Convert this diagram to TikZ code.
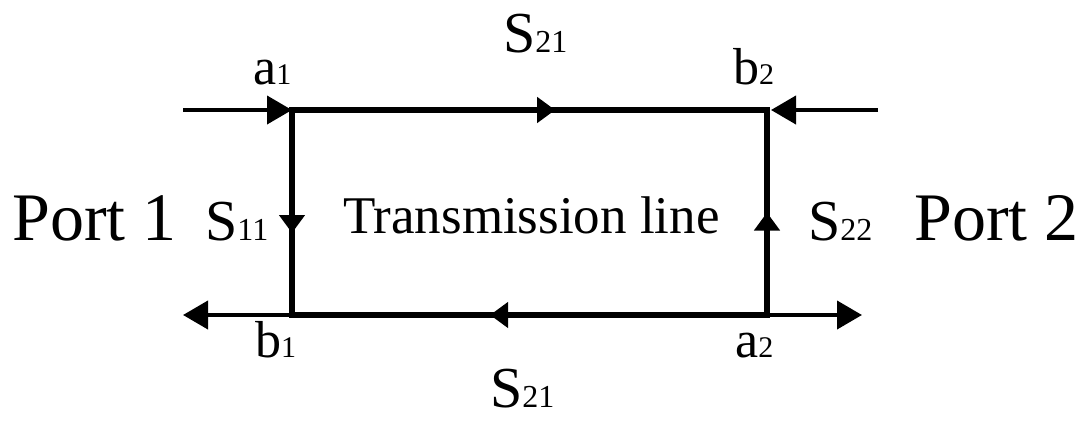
\documentclass[tikz,border=0pt]{standalone}
\usepackage{fontspec}
\setmainfont{Liberation Serif}
\usetikzlibrary{arrows.meta,calc}
\newcommand{\bigS}[2]{{\fontsize{58}{60}\selectfont #1}{\fontsize{32}{34}\selectfont #2}}
\newcommand{\wave}[2]{{\fontsize{52}{54}\selectfont #1}{\fontsize{30}{32}\selectfont #2}}
\tikzset{
  lbl/.style={inner sep=0pt, anchor=base west, text=black},
  edge/.style={line width=6pt, line cap=butt},
  port/.style={line width=4pt},
  bigtip/.style={-{Triangle[length=25pt,width=28pt]}},
  smalltip/.style={-{Triangle[length=18pt,width=25pt]}}
}
\begin{document}
\begin{tikzpicture}[x=1pt,y=1pt]
\useasboundingbox[fill=white] (0,0) rectangle (1088,-421);
% corners
\coordinate (A1) at (292,-110);
\coordinate (B2) at (767,-110);
\coordinate (A2) at (767,-315);
\coordinate (B1) at (292,-315);
% free ends
\coordinate (inL) at (183,-110);
\coordinate (inR) at (878,-110);
\coordinate (outL) at (183,-315);
\coordinate (outR) at (862,-315);
% rectangle
\draw[edge, line join=miter] (A1) -- (B2) -- (A2) -- (B1) -- cycle;
% mid arrows
\draw[edge, smalltip] (A1) -- ($(A1)!0.554!(B2)$);
\draw[edge, smalltip] (A2) -- ($(A2)!0.583!(B1)$);
\draw[edge, smalltip] (A1) -- ($(A1)!0.6!(B1)$);
\draw[edge, smalltip] (A2) -- ($(A2)!0.5!(B2)$);
% port lines
\draw[port, bigtip] (inL) -- (A1);
\draw[port, bigtip] (inR) -- ($(B2)+(4,0)$);
\draw[port, bigtip] (B1) -- (outL);
\draw[port, bigtip] (A2) -- (outR);
% labels
\node[lbl] (s21t) at (503,-52) {\bigS{S}{21}};
\node[lbl] (s21b) at (490,-407) {\bigS{S}{21}};
\node[lbl] (s11) at (205,-240) {\bigS{S}{11}};
\node[lbl] (s22) at (808,-240) {\bigS{S}{22}};
\node[lbl] (la1) at (253,-84) {\wave{a}{1}};
\node[lbl] (lb2) at (733,-84) {\wave{b}{2}};
\node[lbl] (lb1) at (255,-357) {\wave{b}{1}};
\node[lbl] (la2) at (735,-357) {\wave{a}{2}};
\node[lbl] (p1) at (12,-240) {\fontsize{68}{70}\selectfont Port 1};
\node[lbl] (p2) at (914,-240) {\fontsize{68}{70}\selectfont Port 2};
\node[lbl] (tl) at (343,-233) {\fontsize{53}{55}\selectfont Transmission line};
\end{tikzpicture}
\end{document}
